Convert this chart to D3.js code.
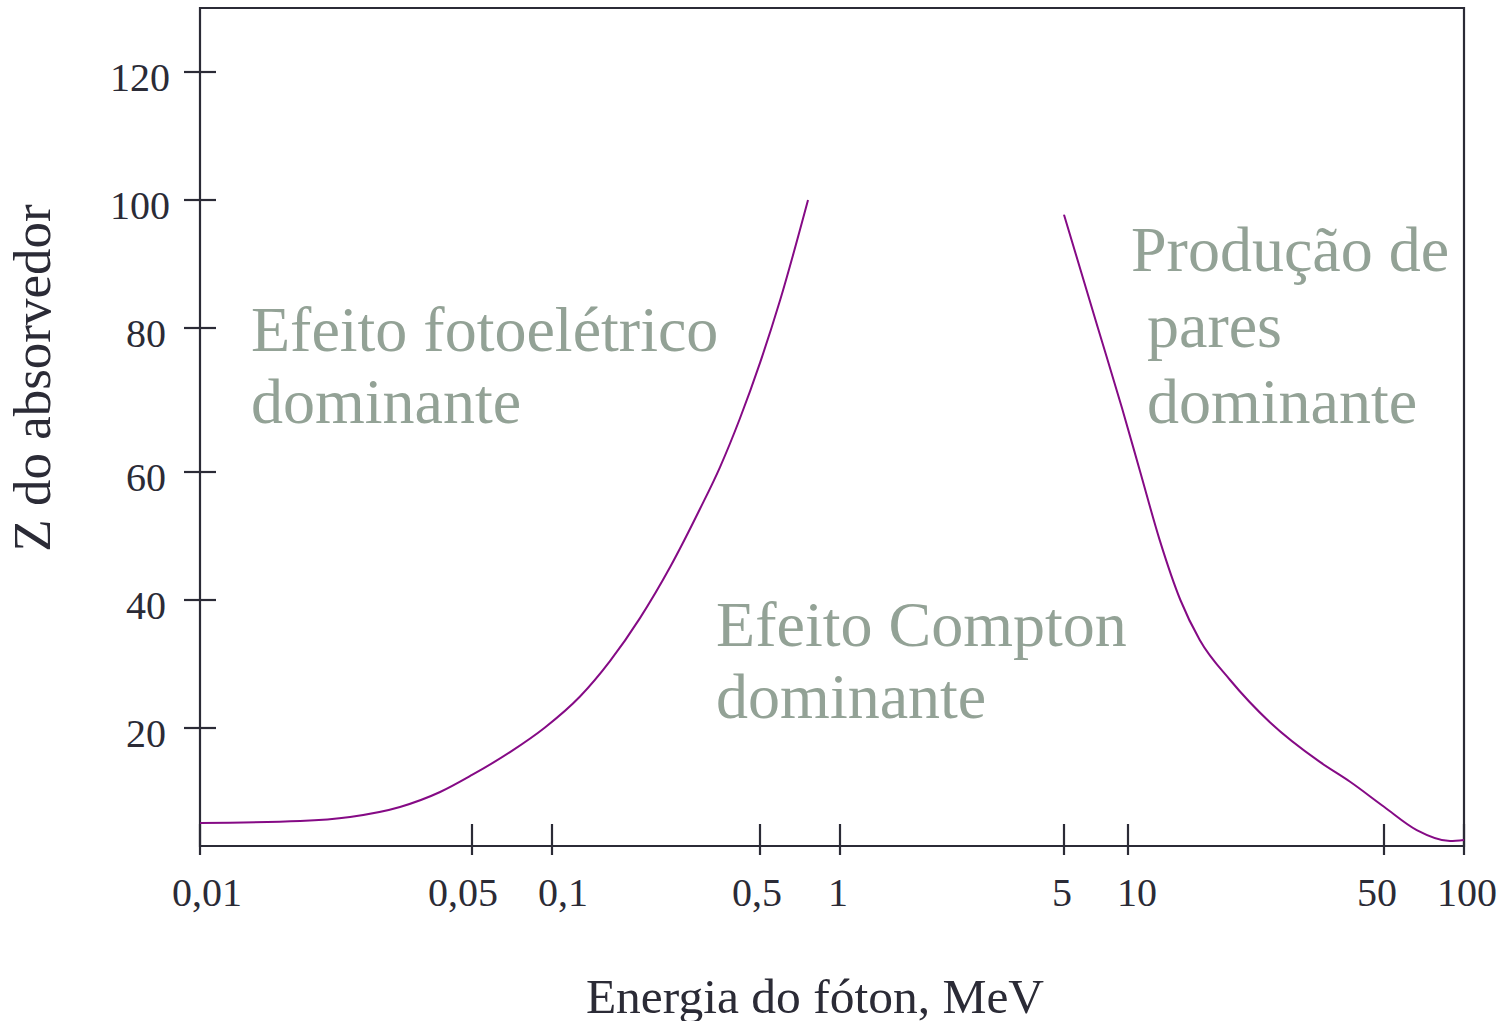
<!DOCTYPE html>
<html>
<head>
<meta charset="utf-8">
<script src="https://cdn.jsdelivr.net/npm/d3@7/dist/d3.min.js"></script>
<style>
  html, body { margin: 0; padding: 0; background: #ffffff; }
  svg { display: block; }
</style>
</head>
<body>
<svg id="chart" width="1503" height="1021"></svg>
<script>
// ---- data ----
const xTicks = [0.01, 0.05, 0.1, 0.5, 1, 5, 10, 50, 100];
const xTickLabels = ["0,01", "0,05", "0,1", "0,5", "1", "5", "10", "50", "100"];
const yTicks = [20, 40, 60, 80, 100, 120];
const yTickLabels = ["20", "40", "60", "80", "100", "120"];

// boundary photoelectric / Compton (energy in MeV, Z)
const photoE = [0.01, 0.0181, 0.0243, 0.03265, 0.0414, 0.05, 0.0695, 0.0941, 0.1242, 0.1566, 0.1975, 0.2492, 0.3144, 0.367, 0.428, 0.5, 0.595, 0.758];
const photoZ = [5.16, 5.47, 6.1, 7.66, 10.0, 12.66, 16.23, 20.08, 24.92, 30.45, 37.17, 45.11, 54.25, 60.69, 67.43, 75.15, 84.33, 100];

// boundary Compton / pair production
const pairE = [5, 7.22, 9.37, 10.8, 12.2, 13.9, 15.7, 19.0, 24.4, 33.4, 40.4, 50, 66.4, 88.6, 100];
const pairZ = [97.7, 80, 68.9, 60, 49.4, 40, 33.75, 27.5, 20.9, 14.7, 11.6, 7.7, 4.06, 2.34, 2.5];

// region labels, anchored in data units
const regionLines = [["Efeito fotoelétrico", "dominante"], ["Efeito Compton", "dominante"], ["Produção de", " pares", " dominante"]];
const regionE = [0.01352, 0.356, 10.19];
const regionZ = [76.8, 32.8, 88.9];

const xTitle = "Energia do fóton, MeV";
const yTitle = "Z do absorvedor";

// ---- layout / style ----
const svg = d3.select("#chart");
const axisColor = "#2b2b36";
const textColor = "#2b2b36";
const regionColor = "#93a296";
const curveColor = "#850a85";
const serif = "'Liberation Serif', 'Times New Roman', serif";
const xLabelNudge = [7, -9, 11, -3, -2, -2, 9, -7, 3]; // hand-placed labels in the original

// the original axis is hand drawn: piecewise logarithmic between tick marks
const x = d3.scaleLog().domain(xTicks).range([200, 472, 552, 760, 840, 1064, 1128, 1384, 1464]);
const y = d3.scaleLinear().domain(yTicks).range([728, 600, 472, 328, 200, 72]);

const pLeft = 200, pRight = 1464, pTop = 8, pBottom = 846;

// frame
svg.append("path")
  .attr("d", `M${pLeft},${pBottom}V${pTop}H${pRight}V${pBottom}Z`)
  .attr("stroke", axisColor).attr("stroke-width", 2.2).attr("fill", "none");

// x ticks
const xt = svg.append("g");
xt.selectAll("line").data(xTicks).join("line")
  .attr("x1", d => x(d)).attr("x2", d => x(d))
  .attr("y1", pBottom - 22).attr("y2", pBottom + 9)
  .attr("stroke", axisColor).attr("stroke-width", 2.2);
xt.selectAll("text").data(xTicks).join("text")
  .attr("x", (d, i) => x(d) + xLabelNudge[i]).attr("y", 906)
  .attr("text-anchor", "middle")
  .attr("font-family", serif).attr("font-size", 40).attr("fill", textColor)
  .text((d, i) => xTickLabels[i]);

// y ticks
const yt = svg.append("g");
yt.selectAll("line").data(yTicks).join("line")
  .attr("x1", pLeft - 16).attr("x2", pLeft + 16)
  .attr("y1", d => y(d)).attr("y2", d => y(d))
  .attr("stroke", axisColor).attr("stroke-width", 2.2);
yt.selectAll("text").data(yTicks).join("text")
  .attr("x", d => d >= 100 ? 170 : 166).attr("y", d => y(d) + 19)
  .attr("text-anchor", "end")
  .attr("font-family", serif).attr("font-size", 40).attr("fill", textColor)
  .text((d, i) => yTickLabels[i]);

// curves
const line = d3.line().x(d => x(d[0])).y(d => y(d[1])).curve(d3.curveMonotoneX);
svg.append("path").datum(photoE.map((e, i) => [e, photoZ[i]]))
  .attr("d", line).attr("fill", "none").attr("stroke", curveColor).attr("stroke-width", 2);
svg.append("path").datum(pairE.map((e, i) => [e, pairZ[i]]))
  .attr("d", line).attr("fill", "none").attr("stroke", curveColor).attr("stroke-width", 2);

// region labels
regionLines.forEach((lines, k) => {
  const t = svg.append("text")
    .attr("font-family", serif).attr("font-size", 64).attr("fill", regionColor)
    .attr("xml:space", "preserve").style("white-space", "pre");
  const step = lines.length === 3 ? 76 : 72;
  lines.forEach((ln, i) => {
    t.append("tspan")
      .attr("x", x(regionE[k]))
      .attr("y", y(regionZ[k]) + i * step)
      .text(ln);
  });
});

// axis titles
svg.append("text")
  .attr("x", 815).attr("y", 1013)
  .attr("text-anchor", "middle")
  .attr("font-family", serif).attr("font-size", 49.5).attr("fill", textColor)
  .text(xTitle);

svg.append("text")
  .attr("transform", "translate(50,378) rotate(-90)")
  .attr("text-anchor", "middle")
  .attr("font-family", serif).attr("font-size", 53).attr("fill", textColor)
  .text(yTitle);
</script>
</body>
</html>
